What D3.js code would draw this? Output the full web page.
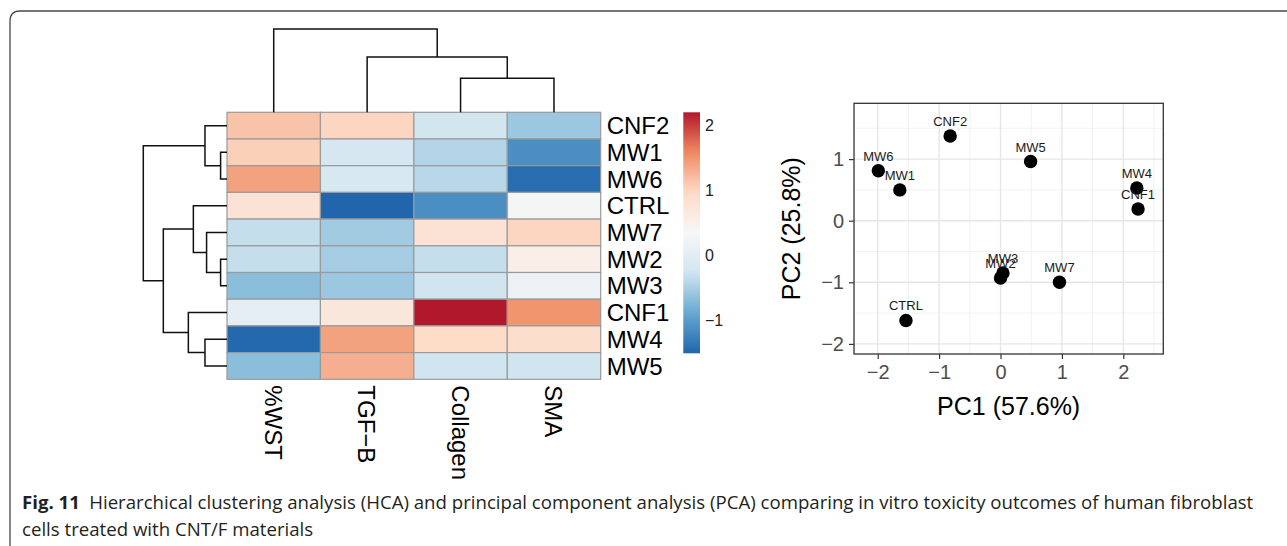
<!DOCTYPE html>
<html>
<head>
<meta charset="utf-8">
<script src="https://cdn.jsdelivr.net/npm/d3@7"></script>
<style>
  body { margin: 0; background: #fff; }
  svg { display: block; }
</style>
</head>
<body>
<div id="chart"></div>
<script>
// ---- heatmap data (display order, row z-scores) ----
const rowNames = ["CNF2", "MW1", "MW6", "CTRL", "MW7", "MW2", "MW3", "CNF1", "MW4", "MW5"];
const colNames = ["%WST", "TGF\u2212B", "Collagen", "SMA"];
const heatValues = [
  [1.15, 1.00, -0.25, -0.58],   // CNF2
  [1.05, -0.20, -0.45, -1.14],  // MW1
  [1.40, -0.18, -0.42, -1.45],  // MW6
  [0.80, -1.51, -1.14, 0.30],   // CTRL
  [-0.35, -0.55, 0.80, 1.00],   // MW7
  [-0.35, -0.53, -0.35, 0.55],  // MW2
  [-0.68, -0.58, -0.27, 0.15],  // MW3
  [0.05, 0.70, 2.20, 1.50],     // CNF1
  [-1.48, 1.40, 0.95, 0.90],    // MW4
  [-0.68, 1.30, -0.27, -0.27]   // MW5
];
const colorDomain = [-1.51, 2.2];
const colorTicks = [-1, 0, 1, 2];
const palette = ["#2166AC", "#67A9CF", "#D1E5F0", "#F7F7F7", "#FDDBC7", "#EF8A62", "#B2182B"];

// hclust style merges: negative = leaf index (1-based), positive = earlier merge; third = height
const rowMerge = [
  [-2, -3, 0.32],
  [-6, -7, 0.32],
  [-5, 2, 1.02],
  [-1, 1, 1.10],
  [-9, -10, 1.10],
  [-4, 3, 1.68],
  [-8, 5, 1.93],
  [6, 7, 3.18],
  [4, 8, 4.18]
];
const colMerge = [
  [-3, -4, 1.64],
  [-2, 1, 2.65],
  [-1, 2, 4.00]
];

// ---- PCA data ----
const pcaNames = ["CNF2", "MW6", "MW1", "MW5", "MW4", "CNF1", "MW2", "MW3", "MW7", "CTRL"];
const pc1 = [-0.82, -1.99, -1.64, 0.49, 2.22, 2.24, 0.00, 0.04, 0.96, -1.54];
const pc2 = [1.375, 0.81, 0.50, 0.96, 0.53, 0.19, -0.93, -0.85, -1.00, -1.62];
const pcXTicks = [-2, -1, 0, 1, 2];
const pcYTicks = [-2, -1, 0, 1];
const pcXMinor = [-1.5, -0.5, 0.5, 1.5, 2.5];
const pcYMinor = [-1.5, -0.5, 0.5, 1.5];

const captionBold = "Fig. 11";
const captionLine1 = "Hierarchical clustering analysis (HCA) and principal component analysis (PCA) comparing in vitro toxicity outcomes of human fibroblast";
const captionLine2 = "cells treated with CNT/F materials";

const width = 1287, height = 546;
const font = "'Liberation Sans', Arial, Helvetica, sans-serif";

const svg = d3.select("#chart").append("svg")
  .attr("width", width)
  .attr("height", height);

// figure frame (rounded top-left corner, open at right and bottom)
svg.append("path")
  .attr("d", "M10,546 V21 Q10,11 20,11 H1290")
  .attr("fill", "none")
  .attr("stroke", "#4a4a4a")
  .attr("stroke-width", 1.3);

// ================= heatmap =================
const heat = {left: 227, top: 112.3, right: 600.7, bottom: 379.3};

const x = d3.scaleBand().domain(d3.range(colNames.length)).range([heat.left, heat.right]);
const y = d3.scaleBand().domain(d3.range(rowNames.length)).range([heat.top, heat.bottom]);

const color = d3.scaleLinear()
  .domain(palette.map((d, i) => colorDomain[0] + (colorDomain[1] - colorDomain[0]) * i / (palette.length - 1)))
  .range(palette)
  .clamp(true);

const cells = [];
heatValues.forEach((row, i) => row.forEach((v, j) => cells.push({i, j, v})));

svg.append("g").selectAll("rect")
  .data(cells)
  .enter()
  .append("rect")
  .attr("x", d => x(d.j))
  .attr("y", d => y(d.i))
  .attr("width", x.bandwidth())
  .attr("height", y.bandwidth())
  .attr("fill", d => color(d.v))
  .attr("stroke", "#9a9a9a")
  .attr("stroke-width", 1.2);

// row labels
svg.append("g").selectAll("text")
  .data(rowNames)
  .enter()
  .append("text")
  .attr("x", heat.right + 6)
  .attr("y", (d, i) => y(i) + y.bandwidth() / 2)
  .attr("dy", "0.36em")
  .style("font-family", font)
  .style("font-size", "24px")
  .attr("fill", "#000")
  .text(d => d);

// column labels (rotated)
svg.append("g").selectAll("text")
  .data(colNames)
  .enter()
  .append("text")
  .attr("transform", (d, j) => "translate(" + (x(j) + x.bandwidth() / 2) + "," + (heat.bottom + 6) + ") rotate(90)")
  .attr("dy", "0.36em")
  .style("font-family", font)
  .style("font-size", "24px")
  .attr("fill", "#000")
  .text(d => d);

// dendrogram builder: returns segments for elbow links
function dendroPaths(merge, leafPos, hScale, vertical) {
  let nodes = [];
  let paths = [];
  let pos = (k) => k < 0 ? {p: leafPos(-k - 1), h: 0} : nodes[k - 1];
  merge.forEach(m => {
    let a = pos(m[0]), b = pos(m[1]), h = m[2];
    let ha = hScale(a.h), hb = hScale(b.h), hm = hScale(h);
    if (vertical) {
      // column tree: p along x, height along y
      paths.push("M" + a.p + "," + ha + "V" + hm + "H" + b.p + "V" + hb);
    } else {
      paths.push("M" + ha + "," + a.p + "H" + hm + "V" + b.p + "H" + hb);
    }
    nodes.push({p: (a.p + b.p) / 2, h: h});
  });
  return paths;
}

const rowH = d3.scaleLinear().domain([0, d3.max(rowMerge, d => d[2])]).range([heat.left, 143.3]);
const colH = d3.scaleLinear().domain([0, d3.max(colMerge, d => d[2])]).range([heat.top, 29]);

svg.append("g").selectAll("path")
  .data(dendroPaths(rowMerge, i => y(i) + y.bandwidth() / 2, rowH, false))
  .enter()
  .append("path")
  .attr("d", d => d)
  .attr("fill", "none")
  .attr("stroke", "#111")
  .attr("stroke-width", 1.5);

svg.append("g").selectAll("path")
  .data(dendroPaths(colMerge, j => x(j) + x.bandwidth() / 2, colH, true))
  .enter()
  .append("path")
  .attr("d", d => d)
  .attr("fill", "none")
  .attr("stroke", "#111")
  .attr("stroke-width", 1.5);

// colour legend
const legend = {x: 683.3, w: 16.7, top: 112.3, bottom: 353.3};
const legendScale = d3.scaleLinear().domain(colorDomain).range([legend.bottom, legend.top]);

const grad = svg.append("defs").append("linearGradient")
  .attr("id", "heatgrad")
  .attr("x1", 0).attr("y1", 1).attr("x2", 0).attr("y2", 0);
grad.selectAll("stop")
  .data(d3.range(0, 1.0001, 0.05))
  .enter()
  .append("stop")
  .attr("offset", d => d)
  .attr("stop-color", d => color(colorDomain[0] + d * (colorDomain[1] - colorDomain[0])));

svg.append("rect")
  .attr("x", legend.x)
  .attr("y", legend.top)
  .attr("width", legend.w)
  .attr("height", legend.bottom - legend.top)
  .attr("fill", "url(#heatgrad)");

svg.append("g").selectAll("text")
  .data(colorTicks)
  .enter()
  .append("text")
  .attr("x", legend.x + legend.w + 5)
  .attr("y", d => legendScale(d))
  .attr("dy", "0.36em")
  .style("font-family", font)
  .style("font-size", "16px")
  .attr("fill", "#222")
  .text(d => d3.format("d")(d));

// ================= PCA scatter =================
const panel = {left: 854, top: 103.3, right: 1163.3, bottom: 354};
const px = d3.scaleLinear().domain([-2.386, 2.651]).range([panel.left, panel.right]);
const py = d3.scaleLinear().domain([-2.164, 1.906]).range([panel.bottom, panel.top]);

const grid = svg.append("g");
grid.selectAll(".vminor")
  .data(pcXMinor)
  .enter()
  .append("line")
  .attr("x1", d => px(d)).attr("x2", d => px(d))
  .attr("y1", panel.top).attr("y2", panel.bottom)
  .attr("stroke", "#EDEDED").attr("stroke-width", 0.7);
grid.selectAll(".hminor")
  .data(pcYMinor)
  .enter()
  .append("line")
  .attr("y1", d => py(d)).attr("y2", d => py(d))
  .attr("x1", panel.left).attr("x2", panel.right)
  .attr("stroke", "#EDEDED").attr("stroke-width", 0.7);
grid.selectAll(".vmajor")
  .data(pcXTicks)
  .enter()
  .append("line")
  .attr("x1", d => px(d)).attr("x2", d => px(d))
  .attr("y1", panel.top).attr("y2", panel.bottom)
  .attr("stroke", "#E6E6E6").attr("stroke-width", 1.4);
grid.selectAll(".hmajor")
  .data(pcYTicks)
  .enter()
  .append("line")
  .attr("y1", d => py(d)).attr("y2", d => py(d))
  .attr("x1", panel.left).attr("x2", panel.right)
  .attr("stroke", "#E6E6E6").attr("stroke-width", 1.4);

// axes
const xAxis = svg.append("g")
  .attr("transform", "translate(0," + panel.bottom + ")")
  .call(d3.axisBottom(px).tickValues(pcXTicks).tickSize(5).tickPadding(6).tickFormat(d3.format("d")));
const yAxis = svg.append("g")
  .attr("transform", "translate(" + panel.left + ",0)")
  .call(d3.axisLeft(py).tickValues(pcYTicks).tickSize(5).tickPadding(5).tickFormat(d3.format("d")));
[xAxis, yAxis].forEach(a => {
  a.select(".domain").remove();
  a.selectAll(".tick line").attr("stroke", "#333").attr("stroke-width", 1.2);
  a.selectAll(".tick text")
    .style("font-family", font)
    .style("font-size", "20px")
    .attr("fill", "#4D4D4D");
});

svg.append("rect")
  .attr("x", panel.left)
  .attr("y", panel.top)
  .attr("width", panel.right - panel.left)
  .attr("height", panel.bottom - panel.top)
  .attr("fill", "none")
  .attr("stroke", "#333")
  .attr("stroke-width", 1.3);

// points and labels
svg.append("g").selectAll("circle")
  .data(pcaNames)
  .enter()
  .append("circle")
  .attr("cx", (d, i) => px(pc1[i]))
  .attr("cy", (d, i) => py(pc2[i]))
  .attr("r", 6.7)
  .attr("fill", "#000");

svg.append("g").selectAll("text")
  .data(pcaNames)
  .enter()
  .append("text")
  .attr("x", (d, i) => px(pc1[i]))
  .attr("y", (d, i) => py(pc2[i]) - 10)
  .attr("text-anchor", "middle")
  .style("font-family", font)
  .style("font-size", "13px")
  .attr("fill", "#1a1a1a")
  .text(d => d);

// axis titles
svg.append("text")
  .attr("x", (panel.left + panel.right) / 2)
  .attr("y", 415)
  .attr("text-anchor", "middle")
  .style("font-family", font)
  .style("font-size", "25px")
  .attr("fill", "#000")
  .text("PC1 (57.6%)");

svg.append("text")
  .attr("transform", "translate(800," + (panel.top + panel.bottom) / 2 + ") rotate(-90)")
  .attr("text-anchor", "middle")
  .style("font-family", font)
  .style("font-size", "25px")
  .attr("fill", "#000")
  .text("PC2 (25.8%)");

// ================= caption =================
const capFont = "'Open Sans', 'Noto Sans', sans-serif";
const cap1 = svg.append("text")
  .attr("x", 22)
  .attr("y", 509)
  .style("font-family", capFont)
  .style("font-size", "17px")
  .attr("fill", "#231F20");
cap1.append("tspan").style("font-weight", "bold").text(captionBold);
const capRest = cap1.append("tspan").attr("dx", 8.5).text(captionLine1);

const cap2 = svg.append("text")
  .attr("x", 22)
  .attr("y", 536)
  .style("font-family", capFont)
  .style("font-size", "17px")
  .attr("fill", "#231F20")
  .text(captionLine2);

// fit first caption line to the width it has in the figure (x 22 -> 1245)
let capW = cap1.node().getComputedTextLength();
let capSize = Math.min(20, 17 * 1223 / capW);
cap1.style("font-size", capSize + "px");
capRest.attr("dx", capSize * 0.5);
cap2.style("font-size", capSize + "px");
</script>
</body>
</html>
